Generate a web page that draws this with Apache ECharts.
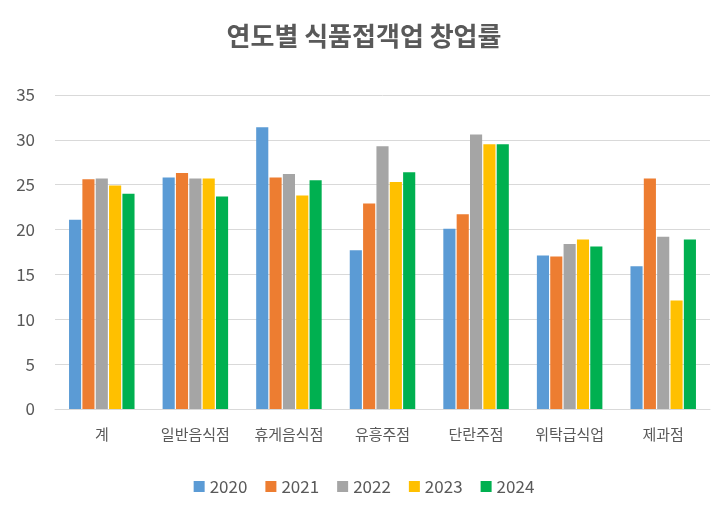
<!DOCTYPE html>
<html><head><meta charset="utf-8">
<script src="https://cdn.jsdelivr.net/npm/echarts@6/dist/echarts.min.js"></script>
<style>html,body{margin:0;background:#fff}#main{width:728px;height:516px}</style>
</head><body><div id="main"></div>
<script>
var categories = ['계', '일반음식점', '휴게음식점', '유흥주점', '단란주점', '위탁급식업', '제과점'];
var years = ['2020', '2021', '2022', '2023', '2024'];
var v2020 = [21.1, 25.8, 31.4, 17.7, 20.1, 17.1, 15.9];
var v2021 = [25.6, 26.3, 25.8, 22.9, 21.7, 17.0, 25.7];
var v2022 = [25.7, 25.7, 26.2, 29.3, 30.6, 18.4, 19.2];
var v2023 = [24.9, 25.7, 23.8, 25.3, 29.5, 18.9, 12.1];
var v2024 = [24.0, 23.7, 25.5, 26.4, 29.5, 18.1, 18.9];
var colors = ['#5B9BD5', '#ED7D31', '#A5A5A5', '#FFC000', '#00B050'];
var font = '"Noto Sans CJK KR", sans-serif';

var chart = echarts.init(document.getElementById('main'));
chart.setOption({
    color: colors,
    textStyle: {fontFamily: font},
    title: {
        text: '연도별 식품접객업 창업률',
        left: 'center', top: 18,
        textStyle: {fontSize: 26, fontWeight: 'bold', color: '#595959', fontFamily: font}
    },
    legend: {
        bottom: 16, itemWidth: 11, itemHeight: 11, itemGap: 18,
        icon: 'rect',
        textStyle: {fontSize: 17, color: '#595959', fontFamily: font}
    },
    grid: {left: 55, right: 18, top: 95, bottom: 107},
    xAxis: {
        type: 'category', data: categories,
        axisTick: {show: false},
        axisLine: {lineStyle: {color: '#D9D9D9'}},
        axisLabel: {fontSize: 15, color: '#595959', margin: 18}
    },
    yAxis: {
        type: 'value', min: 0, max: 35, interval: 5,
        axisLabel: {fontSize: 17, color: '#595959', margin: 20},
        splitLine: {lineStyle: {color: '#D9D9D9'}}
    },
    series: [v2020, v2021, v2022, v2023, v2024].map(function (d, i) {
        return {name: years[i], type: 'bar', data: d, barGap: '10%', barCategoryGap: '30%'};
    })
});
</script></body></html>
